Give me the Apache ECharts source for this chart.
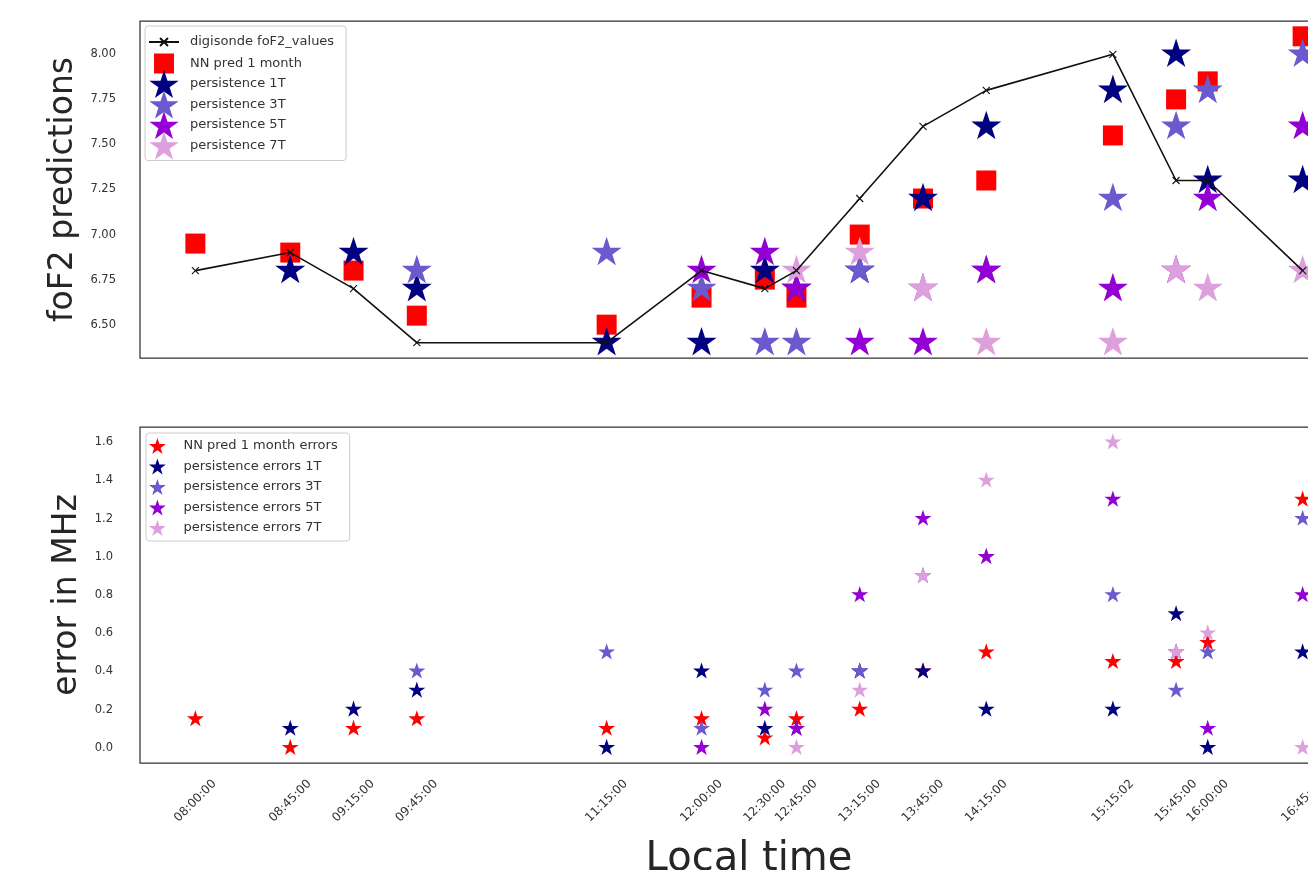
<!DOCTYPE html>
<html><head><meta charset="utf-8">
<script src="https://cdn.jsdelivr.net/npm/echarts@6/dist/echarts.min.js"></script>
<style>html,body{margin:0;padding:0;background:#fff;overflow:hidden;width:1308px;height:870px}#c{width:1370px;height:870px}</style>
</head><body><div id="c"></div><script>
// ---- data ----
const timeLabels = ['08:00:00','08:45:00','09:15:00','09:45:00','11:15:00','12:00:00','12:30:00','12:45:00','13:15:00','13:45:00','14:15:00','15:15:02','15:45:00','16:00:00','16:45:00'];
const digisonde = [6.8, 6.9, 6.7, 6.4, 6.4, 6.8, 6.7, 6.8, 7.2, 7.6, 7.8, 8.0, 7.3, 7.3, 6.8];
const nnPred    = [6.95, 6.9, 6.8, 6.55, 6.5, 6.65, 6.75, 6.65, 7.0, 7.2, 7.3, 7.55, 7.75, 7.85, 8.1];
const pers1T    = [null, 6.8, 6.9, 6.7, 6.4, 6.4, 6.8, 6.7, 6.8, 7.2, 7.6, 7.8, 8.0, 7.3, 7.3];
const pers3T    = [null, null, null, 6.8, 6.9, 6.7, 6.4, 6.4, 6.8, 6.7, 6.8, 7.2, 7.6, 7.8, 8.0];
const pers5T    = [null, null, null, null, null, 6.8, 6.9, 6.7, 6.4, 6.4, 6.8, 6.7, 6.8, 7.2, 7.6];
const pers7T    = [null, null, null, null, null, null, null, 6.8, 6.9, 6.7, 6.4, 6.4, 6.8, 6.7, 6.8];
const nnErr     = [0.15, 0.0, 0.1, 0.15, 0.1, 0.15, 0.05, 0.15, 0.2, 0.4, 0.5, 0.45, 0.45, 0.55, 1.3];
const err1T     = [null, 0.1, 0.2, 0.3, 0.0, 0.4, 0.1, 0.1, 0.4, 0.4, 0.2, 0.2, 0.7, 0.0, 0.5];
const err3T     = [null, null, null, 0.4, 0.5, 0.1, 0.3, 0.4, 0.4, 0.9, 1.0, 0.8, 0.3, 0.5, 1.2];
const err5T     = [null, null, null, null, null, 0.0, 0.2, 0.1, 0.8, 1.2, 1.0, 1.3, 0.5, 0.1, 0.8];
const err7T     = [null, null, null, null, null, null, null, 0.0, 0.3, 0.9, 1.4, 1.6, 0.5, 0.6, 0.0];
const topTicks  = [6.5, 6.75, 7.0, 7.25, 7.5, 7.75, 8.0];
const botTicks  = [0.0, 0.2, 0.4, 0.6, 0.8, 1.0, 1.2, 1.4, 1.6];

// ---- helpers ----
const FONT = 'DejaVu Sans';
const minutes = timeLabels.map(t => { const p = t.split(':').map(Number); return p[0]*60 + p[1] + p[2]/60 - 480; });
function pairs(vals){ const out=[]; vals.forEach((v,i)=>{ if(v!==null) out.push([minutes[i], v]); }); return out; }
function labelFor(v){ let best=0; minutes.forEach((m,i)=>{ if(Math.abs(m-v) < Math.abs(minutes[best]-v)) best=i; }); return timeLabels[best]; }
function starPath(){ const pts=[]; for(let k=0;k<10;k++){ const r = k%2===0 ? 1 : 0.381966; const a=(-90+k*36)*Math.PI/180; pts.push((r*Math.cos(a)*100).toFixed(2)+','+(r*Math.sin(a)*100).toFixed(2)); } return 'path://M'+pts.join('L')+'Z'; }
const STAR = starPath();
const XMARK = 'path://M0,0L10,10M10,0L0,10';
const COL = {nn:'#ff0000', p1:'#000080', p3:'#6a5acd', p5:'#9400d3', p7:'#dda0dd'};

function starSeries(name, vals, color, size, gi){
  return {name, type:'scatter', xAxisIndex:gi, yAxisIndex:gi, data:pairs(vals), symbol:STAR, symbolSize:size,
    symbolKeepAspect:true, symbolOffset:[0,'-5%'], itemStyle:{color, opacity:1}, emphasis:{disabled:true}};
}

const axisCommon = {axisLine:{show:false}, axisTick:{show:false}, splitLine:{show:false}};
const chart = echarts.init(document.getElementById('c'), null, {renderer:'canvas'});
chart.setOption({
  animation:false,
  backgroundColor:'#fff',
  grid:[
    {left:140, top:21, width:1218, height:337, outerBoundsMode:'none', containLabel:false, show:true, borderColor:'#333', borderWidth:1.25, backgroundColor:'#fff'},
    {left:140, top:427, width:1218, height:336, outerBoundsMode:'none', containLabel:false, show:true, borderColor:'#333', borderWidth:1.25, backgroundColor:'#fff'}
  ],
  xAxis:[
    Object.assign({type:'value', gridIndex:0, min:-26.25, max:551.25, axisLabel:{show:false}}, axisCommon),
    Object.assign({type:'value', gridIndex:1, min:-26.25, max:551.25,
      name:'Local time', nameLocation:'middle', nameGap:77,
      nameTextStyle:{fontSize:40, color:'#262626', fontFamily:FONT},
      axisLabel:{customValues:minutes, formatter:v=>labelFor(v), rotate:45, align:'center', verticalAlign:'middle',
        margin:38, fontSize:12, color:'#333', fontFamily:FONT, hideOverlap:false}}, axisCommon)
  ],
  yAxis:[
    Object.assign({type:'value', gridIndex:0, min:6.315, max:8.185,
      name:'foF2 predictions', nameLocation:'middle', nameGap:60, nameRotate:90,
      nameTextStyle:{fontSize:33, color:'#262626', fontFamily:FONT},
      axisLabel:{customValues:topTicks, formatter:v=>v.toFixed(2), margin:24, fontSize:11.5, color:'#333', fontFamily:FONT}}, axisCommon),
    Object.assign({type:'value', gridIndex:1, min:-0.08, max:1.68,
      name:'error in MHz', nameLocation:'middle', nameGap:52, nameRotate:90,
      nameTextStyle:{fontSize:33, color:'#262626', fontFamily:FONT},
      axisLabel:{customValues:botTicks, formatter:v=>v.toFixed(1), margin:27, fontSize:11.5, color:'#333', fontFamily:FONT}}, axisCommon)
  ],
  legend:[
    {orient:'vertical', left:145, top:26, itemWidth:30, itemHeight:28, itemGap:-7.5, padding:[1,12,1,3],
     backgroundColor:'rgba(255,255,255,0.85)', borderColor:'#ccc', borderWidth:1, borderRadius:3, selectedMode:false,
     textStyle:{fontSize:13, color:'#333', fontFamily:FONT, padding:[0,0,0,6]},
     data:[
       {name:'digisonde foF2_values', icon:'path://M0,0M30,28M0,14L30,14M11,10L19,18M19,10L11,18'},
       {name:'NN pred 1 month', icon:'path://M0,0M30,28M5,4L25,4L25,24L5,24Z'},
       'persistence 1T','persistence 3T','persistence 5T','persistence 7T']},
    {orient:'vertical', left:146, top:433, itemWidth:30, itemHeight:16, itemGap:4.5, padding:[5,12,5,3],
     backgroundColor:'rgba(255,255,255,0.85)', borderColor:'#ccc', borderWidth:1, borderRadius:3, selectedMode:false,
     textStyle:{fontSize:13, color:'#333', fontFamily:FONT, padding:[0,0,0,6]},
     data:['NN pred 1 month errors','persistence errors 1T','persistence errors 3T','persistence errors 5T','persistence errors 7T']}
  ],
  series:[
    {name:'NN pred 1 month', type:'scatter', xAxisIndex:0, yAxisIndex:0, data:pairs(nnPred), symbol:'rect', symbolSize:20,
     itemStyle:{color:COL.nn, opacity:1}, emphasis:{disabled:true}},
    starSeries('persistence 1T', pers1T, COL.p1, 30, 0),
    starSeries('persistence 3T', pers3T, COL.p3, 30, 0),
    starSeries('persistence 5T', pers5T, COL.p5, 30, 0),
    starSeries('persistence 7T', pers7T, COL.p7, 30, 0),
    {name:'digisonde foF2_values', type:'line', xAxisIndex:0, yAxisIndex:0, data:pairs(digisonde),
     symbol:XMARK, symbolSize:7, showAllSymbol:true, lineStyle:{color:'#111', width:1.6},
     itemStyle:{color:'#111', borderColor:'#111', borderWidth:1.1}, emphasis:{disabled:true}, z:3},
    starSeries('NN pred 1 month errors', nnErr, COL.nn, 17, 1),
    starSeries('persistence errors 1T', err1T, COL.p1, 17, 1),
    starSeries('persistence errors 3T', err3T, COL.p3, 17, 1),
    starSeries('persistence errors 5T', err5T, COL.p5, 17, 1),
    starSeries('persistence errors 7T', err7T, COL.p7, 17, 1)
  ]
});
</script></body></html>
